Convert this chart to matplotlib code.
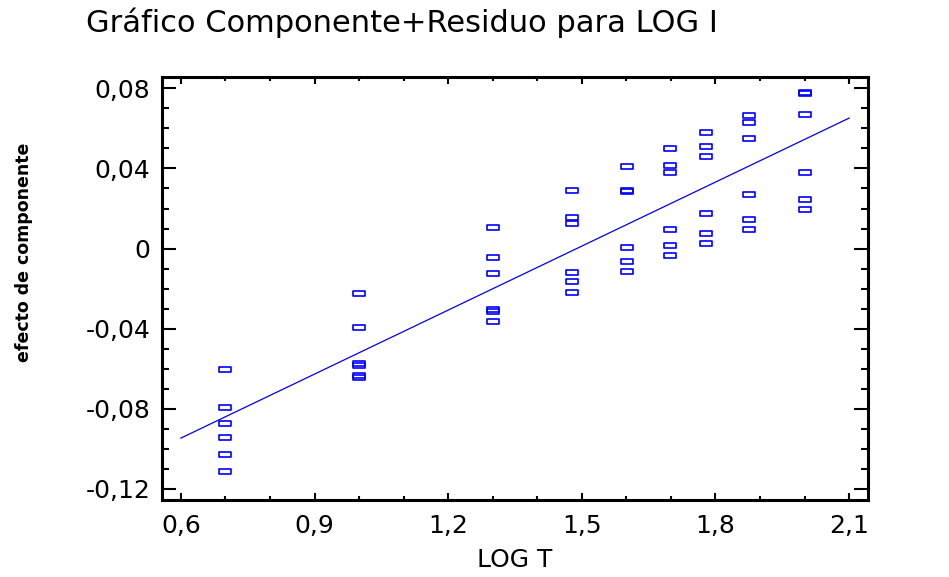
import matplotlib

matplotlib.use("Agg")
import matplotlib.pyplot as plt
import numpy as np
from matplotlib.path import Path

# --------------------------------------------------
# data
# --------------------------------------------------
log_t_levels = [0.699, 1.000, 1.301, 1.477, 1.602, 1.699, 1.778, 1.875, 2.000]

effect_by_level = [
    [-0.060, -0.079, -0.087, -0.094, -0.1025, -0.111],
    [-0.022, -0.039, -0.057, -0.058, -0.063, -0.064],
    [0.011, -0.004, -0.012, -0.030, -0.031, -0.036],
    [0.029, 0.016, 0.013, -0.0115, -0.016, -0.0215],
    [0.041, 0.029, 0.0285, 0.001, -0.006, -0.011],
    [0.050, 0.0415, 0.038, 0.010, 0.002, -0.003],
    [0.058, 0.051, 0.046, 0.018, 0.008, 0.003],
    [0.0665, 0.063, 0.055, 0.027, 0.015, 0.010],
    [0.078, 0.0775, 0.067, 0.038, 0.025, 0.020],
]

# fitted component line
fit_slope = 0.1065
fit_intercept = -0.1585
fit_x = [0.6, 2.1]

x_ticks = [0.6, 0.9, 1.2, 1.5, 1.8, 2.1]
x_tick_labels = ["0,6", "0,9", "1,2", "1,5", "1,8", "2,1"]
y_ticks = [0.08, 0.04, 0.0, -0.04, -0.08, -0.12]
y_tick_labels = ["0,08", "0,04", "0", "-0,04", "-0,08", "-0,12"]

title = "Gráfico Componente+Residuo para LOG I"
x_label = "LOG T"
y_label = "efecto de componente"

# --------------------------------------------------
# figure
# --------------------------------------------------
W, H = 949, 577
fig = plt.figure(figsize=(W / 100, H / 100), dpi=100)
ax = fig.add_axes([161.7 / W, 1 - 500 / H, (868.3 - 161.7) / W, (500 - 77.3) / H])

blue = "#0000ff"

# hollow flat rectangles as markers
rect = Path([(-1, -0.45), (1, -0.45), (1, 0.45), (-1, 0.45), (-1, -0.45)],
            [Path.MOVETO, Path.LINETO, Path.LINETO, Path.LINETO, Path.CLOSEPOLY])

xs = np.concatenate([[lv] * len(ef) for lv, ef in zip(log_t_levels, effect_by_level)])
ys = np.concatenate(effect_by_level)
ax.plot(xs, ys, ls="none", marker=rect, ms=8, mfc="none", mec=blue, mew=1.2)

fx = np.array(fit_x)
ax.plot(fx, fit_intercept + fit_slope * fx, color=blue, lw=0.9)

ax.set_xlim(0.557, 2.143)
ax.set_ylim(-0.1255, 0.0855)

ax.set_xticks(x_ticks)
ax.set_xticklabels(x_tick_labels)
ax.set_xticks(np.arange(0.7, 2.1, 0.1), minor=True)
ax.set_yticks(y_ticks)
ax.set_yticklabels(y_tick_labels)
ax.set_yticks(np.arange(-0.11, 0.08, 0.01), minor=True)

ax.tick_params(axis="both", which="both", direction="in", top=True, right=True,
               width=1.5, labelsize=18, colors="black")
ax.tick_params(axis="y", which="major", length=10, pad=8)
ax.tick_params(axis="y", which="minor", length=5)
ax.tick_params(axis="x", which="major", length=5, pad=10)
ax.tick_params(axis="x", which="minor", length=3)

for sp in ax.spines.values():
    sp.set_linewidth(2.2)

ax.set_xlabel(x_label, fontsize=18, labelpad=7)

fig.text(24 / W, 1 - 252 / H, y_label, rotation=90, fontsize=12.5,
         fontweight="bold", ha="center", va="center")
fig.text(86 / W, 1 - 32 / H, title, fontsize=22, ha="left", va="baseline")

fig.savefig("out.png", dpi=100)
